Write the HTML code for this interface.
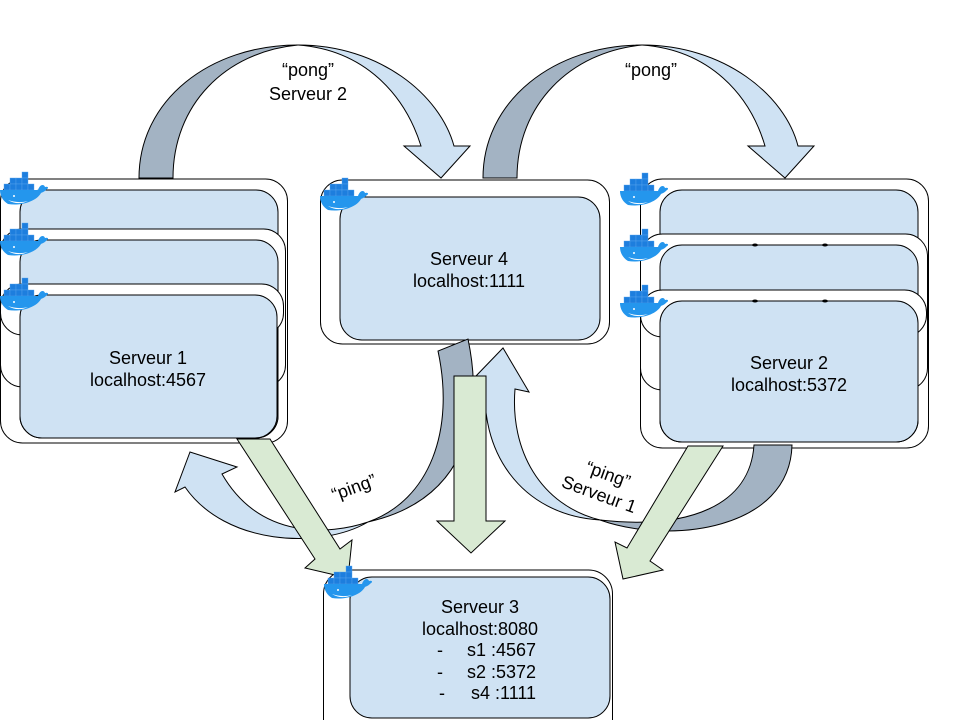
<!DOCTYPE html>
<html><head><meta charset="utf-8"><style>
html,body{margin:0;padding:0;background:#fff;}
svg{display:block;font-family:"Liberation Sans",sans-serif;}
</style></head><body>
<svg width="960" height="720" viewBox="0 0 960 720" xmlns="http://www.w3.org/2000/svg">
<defs>
<symbol id="wh" viewBox="0 0 50 36">
<g fill="#1d7ede" stroke="#5aa6ee" stroke-width="0.4">
<rect x="22" y="2" width="6" height="6"/>
<rect x="10" y="8" width="6" height="6"/><rect x="16" y="8" width="6" height="6"/><rect x="22" y="8" width="6" height="6"/>
<rect x="4" y="14" width="6" height="6"/><rect x="10" y="14" width="6" height="6"/><rect x="16" y="14" width="6" height="6"/><rect x="22" y="14" width="6" height="6"/><rect x="28" y="14" width="6" height="6"/>
</g>
<path d="M0,20 L38,20 C40,14 44,14 45,17 C48,16 49,18 47,19 C44,22 43,22 41,23 C36,32 20,36 8,34 C3,31 0,26 0,20 Z" fill="#2496ed"/>
<path d="M8,30 C14,34 22,34 28,31 C20,33 14,32 8,30Z" fill="#fff"/>
<circle cx="14" cy="26" r="1" fill="#fff"/>
</symbol>
</defs>

<!-- top arrows -->
<path d="M139,178 C139,100 210,45 298,45 C225,52 173,105 173,178 Z" fill="#a3b3c3" stroke="#000" stroke-width="1"/>
<path d="M298,45 C380,45 440,95 454,146 L470,146 L441,178 L404,146 L421,146 C405,95 365,50 298,45 Z" fill="#cfe2f3" stroke="#000" stroke-width="1"/>
<path d="M483,178 C483,100 555,45 642,45 C570,52 517,105 517,178 Z" fill="#a3b3c3" stroke="#000" stroke-width="1"/>
<path d="M642,45 C724,45 785,95 798,146 L814,146 L785,178 L748,146 L765,146 C750,95 710,50 642,45 Z" fill="#cfe2f3" stroke="#000" stroke-width="1"/>
<text x="308" y="76" font-size="18" text-anchor="middle">“pong”</text>
<text x="308" y="100" font-size="18" text-anchor="middle">Serveur 2</text>
<text x="651" y="76" font-size="18" text-anchor="middle">“pong”</text>

<!-- Server 1 stack -->
<g stroke="#000" stroke-width="1">
<rect x="0.5" y="179" width="287" height="264" rx="22" fill="#fff"/>
<rect x="20" y="190" width="258" height="248" rx="22" fill="#cfe2f3"/>
<rect x="0.5" y="229" width="285" height="158" rx="22" fill="#fff"/>
<rect x="20" y="240" width="258" height="198" rx="22" fill="#cfe2f3"/>
<rect x="0.5" y="284" width="283" height="51" rx="22" fill="#fff"/>
<rect x="20" y="295" width="257" height="143" rx="22" fill="#cfe2f3"/>
</g>
<use href="#wh" x="0" y="170" width="50" height="36"/>
<use href="#wh" x="0" y="221" width="50" height="36"/>
<use href="#wh" x="0" y="276" width="50" height="36"/>
<text x="148" y="364" font-size="18" text-anchor="middle">Serveur 1</text>
<text x="148" y="386" font-size="18" text-anchor="middle">localhost:4567</text>

<!-- Server 4 -->
<g stroke="#000" stroke-width="1">
<rect x="320.5" y="180" width="289" height="164" rx="22" fill="#fff"/>
<rect x="340" y="197" width="260" height="143" rx="22" fill="#cfe2f3"/>
</g>
<use href="#wh" x="320" y="176" width="50" height="36"/>
<text x="469" y="265" font-size="18" text-anchor="middle">Serveur 4</text>
<text x="469" y="287" font-size="18" text-anchor="middle">localhost:1111</text>

<!-- Server 2 stack -->
<g stroke="#000" stroke-width="1">
<rect x="640.5" y="179" width="288" height="269" rx="22" fill="#fff"/>
<rect x="660" y="190" width="258" height="252" rx="22" fill="#cfe2f3"/>
<rect x="640.5" y="234" width="287" height="156" rx="22" fill="#fff"/>
<rect x="660" y="245" width="258" height="197" rx="22" fill="#cfe2f3"/>
<rect x="640.5" y="290" width="286" height="47" rx="22" fill="#fff"/>
<rect x="660" y="301" width="258" height="141" rx="22" fill="#cfe2f3"/>
</g>
<g fill="#000"><ellipse cx="755" cy="245" rx="3" ry="1.5"/><ellipse cx="825" cy="245" rx="3" ry="1.5"/><ellipse cx="755" cy="301" rx="3" ry="1.5"/><ellipse cx="825" cy="301" rx="3" ry="1.5"/></g>
<use href="#wh" x="620" y="171" width="50" height="36"/>
<use href="#wh" x="620" y="227" width="50" height="36"/>
<use href="#wh" x="620" y="283" width="50" height="36"/>
<text x="789" y="369" font-size="18" text-anchor="middle">Serveur 2</text>
<text x="789" y="391" font-size="18" text-anchor="middle">localhost:5372</text>

<!-- Server 3 -->
<g stroke="#000" stroke-width="1">
<rect x="323.5" y="570" width="289" height="175" rx="24" fill="#fff"/>
<rect x="350" y="577" width="260" height="141" rx="22" fill="#cfe2f3"/>
</g>

<!-- bottom-left ping arrow -->
<path d="M368,522 C330,535 260,540 222,474 L237,467 L190,452 L175,492 L185,487 C225,545 320,550 368,522 Z" fill="#cfe2f3" stroke="#000" stroke-width="1"/>
<path d="M368,522 C430,500 455,430 438,351 L468,339 C485,420 465,500 368,522 Z" fill="#a3b3c3" stroke="#000" stroke-width="1"/>
<text transform="translate(356,493) rotate(-20)" font-size="18" text-anchor="middle">“ping”</text>

<!-- right ping arrow -->
<path d="M600,520 C540,505 510,450 515,389 L529,392 L503,348 L476,376 L486,378 C478,450 520,515 600,520 Z" fill="#cfe2f3" stroke="#000" stroke-width="1"/>
<path d="M600,520 C670,545 790,530 792,445 L754,445 C750,505 690,530 600,520 Z" fill="#a3b3c3" stroke="#000" stroke-width="1"/>
<text transform="translate(606,480) rotate(20)" font-size="18" text-anchor="middle">“ping”</text>
<text transform="translate(597,500) rotate(20)" font-size="18" text-anchor="middle">Serveur 1</text>

<!-- green arrows -->
<path d="M237,439 L315,559 L305,568 L348,578 L352,540 L340,549 L270,439 Z" fill="#d9ead3" stroke="#000" stroke-width="1"/>
<path d="M454,376 L486,376 L486,521 L505,521 L471,553 L437,521 L454,521 Z" fill="#d9ead3" stroke="#000" stroke-width="1"/>
<path d="M688,446 L627,548 L615,542 L623,579 L663,570 L650,561 L723,446 Z" fill="#d9ead3" stroke="#000" stroke-width="1"/>

<use href="#wh" x="324" y="564" width="50" height="36"/>
<text x="480" y="613" font-size="18" text-anchor="middle">Serveur 3</text>
<text x="480" y="635" font-size="18" text-anchor="middle">localhost:8080</text>
<g font-size="18">
<text x="437" y="656">-</text><text x="467" y="656">s1 :4567</text>
<text x="437" y="678">-</text><text x="467" y="678">s2 :5372</text>
<text x="439" y="699">-</text><text x="471" y="699">s4 :1111</text>
</g>
</svg>
</body></html>
